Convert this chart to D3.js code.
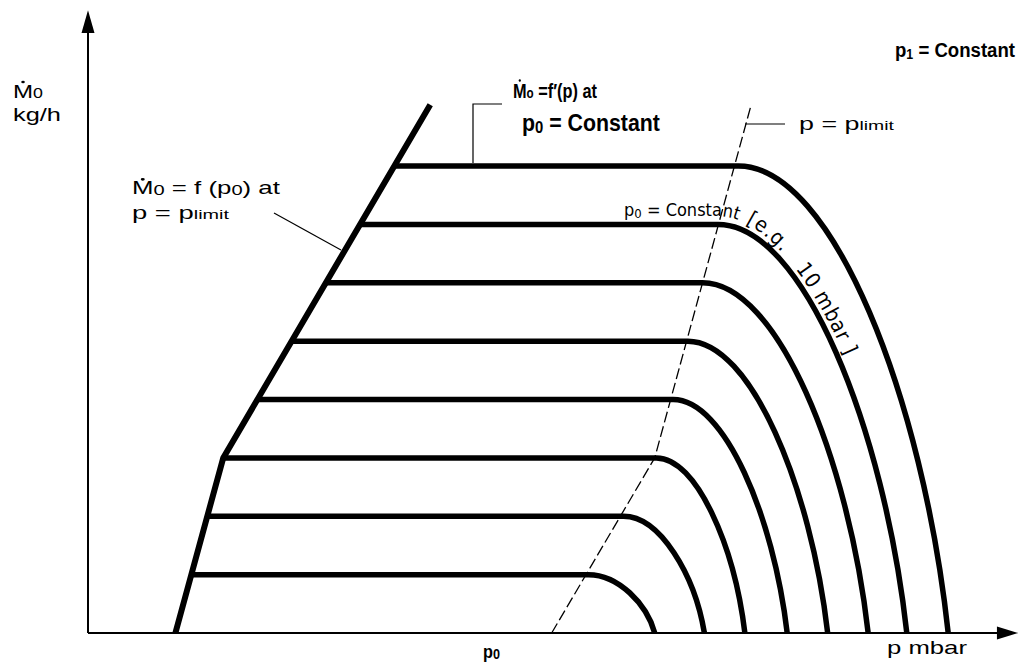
<!DOCTYPE html>
<html>
<head>
<meta charset="utf-8">
<script src="https://cdn.jsdelivr.net/npm/d3@7"></script>
<style>
  html, body { margin: 0; padding: 0; background: #fff; }
  svg { display: block; }
</style>
</head>
<body>
<svg id="chart" width="1023" height="664"></svg>
<script>
// Pump operating field: throughput M0 (kg/h) against pressure p (mbar)
// Each level is one curve at p0 = constant: flat, then rolling off to zero.
const levels = [1, 2, 3, 4, 5, 6, 7, 8];
const pStart = [11.2, 12.9, 14.6, 18.3, 22.0, 25.8, 29.6, 33.3];
const pKnee  = [54.4, 58.2, 61.8, 63.6, 65.2, 66.8, 68.5, 70.7];
const pEnd   = [61.6, 67.0, 71.4, 76.0, 80.4, 84.8, 89.0, 93.5];

// M0 = f(p0) at p = plimit (left boundary of the field)
const limitP = [9.5, 14.7, 37.2];
const limitM = [0, 3.0, 9.05];

// p = plimit (dashed)
const plimP = [50.4, 61.6, 72.0];
const plimM = [0, 3.0, 9.0];

const svg = d3.select("#chart");
const x = d3.scaleLinear().domain([0, 100]).range([88, 1008]);
const y = d3.scaleLinear().domain([0, 8]).range([633, 166]);

const SANS = "'Liberation Sans', Arial, Helvetica, sans-serif";
const COND = "'Liberation Sans Narrow', 'DejaVu Sans Condensed', 'Roboto Condensed', 'Arial Narrow', sans-serif";

// ---- axes with arrow heads ----
const axes = svg.append("g").attr("stroke", "#000").attr("fill", "#000");
axes.append("line")
  .attr("x1", x(0)).attr("y1", y(0)).attr("x2", x(0)).attr("y2", y(10.35))
  .attr("stroke-width", 2);
axes.append("path")
  .attr("d", `M${x(0)},${y(10.67)} L${x(0) - 6.5},${y(10.28)} L${x(0) + 6.5},${y(10.28)} Z`)
  .attr("stroke", "none");
axes.append("line")
  .attr("x1", x(0)).attr("y1", y(0)).attr("x2", x(99)).attr("y2", y(0))
  .attr("stroke-width", 2);
axes.append("path")
  .attr("d", `M${x(101.1)},${y(0)} L${x(98.8)},${y(0) - 6.5} L${x(98.8)},${y(0) + 6.5} Z`)
  .attr("stroke", "none");

// ---- left boundary ----
const boundary = d3.line().x(d => x(d[0])).y(d => y(d[1]));
svg.append("path")
  .attr("d", boundary(d3.zip(limitP, limitM)))
  .attr("fill", "none").attr("stroke", "#000").attr("stroke-width", 6)
  .attr("stroke-linejoin", "miter");

// ---- characteristic curves ----
const A = 0.45, B = 0.12, C = 0.5;   // roll-off shape
function curvePath(i, dx, dy) {
  dx = dx || 0; dy = dy || 0;
  const x0 = x(pStart[i]), xk = x(pKnee[i]), xe = x(pEnd[i]);
  const yl = y(levels[i]), yb = y(0);
  const W = xe - xk, H = yb - yl;
  const p = d3.path();
  p.moveTo(x0, yl + dy);
  p.lineTo(xk, yl + dy);
  p.bezierCurveTo(xk + A * W, yl + dy, xe - B * W + dx, yl + C * H - 2 * Math.sign(dx), xe + dx, yb);
  return p.toString();
}
svg.append("g").selectAll("path")
  .data(levels)
  .join("path")
  .attr("d", (d, i) => curvePath(i))
  .attr("fill", "none").attr("stroke", "#000").attr("stroke-width", 5.5);

// ---- p = plimit dashed line ----
svg.append("path")
  .attr("d", boundary(d3.zip(plimP, plimM)))
  .attr("fill", "none").attr("stroke", "#000").attr("stroke-width", 1.3)
  .attr("stroke-dasharray", "11,4");

// ---- leader lines ----
const lead = svg.append("g").attr("fill", "none").attr("stroke", "#000").attr("stroke-width", 1.2);
lead.append("path").attr("d", "M274,213 L341,250");
lead.append("path").attr("d", `M502,104 H473 V${y(8) - 3}`);
lead.append("path").attr("d", "M745,124 H785");

// ---- text helpers: each label is fitted to a given width by a horizontal scale ----
function addText(px, py, parts, size, family, len, weight) {
  const g = svg.append("g");
  const t = g.append("text")
    .attr("x", 0).attr("y", 0)
    .attr("font-family", family).attr("font-size", size)
    .attr("font-weight", weight || 400).attr("fill", "#000");
  let shift = 0;
  parts.forEach(p => {
    const ts = t.append("tspan").text(p.t);
    const target = p.dy || 0;
    if (target !== shift) { ts.attr("dy", target - shift); shift = target; }
    if (p.size) ts.attr("font-size", p.size);
  });
  const w = t.node().getComputedTextLength();
  const s = len ? len / w : 1;
  g.attr("transform", `translate(${px},${py}) scale(${s},1)`);
  return {g, t};
}
function dotOver(lbl, idx) {
  const e = lbl.t.node().getExtentOfChar(idx);
  lbl.g.append("ellipse").attr("cx", e.x + e.width / 2).attr("cy", e.y + 1.5)
    .attr("rx", 1.4).attr("ry", 1.3).attr("fill", "#000");
}

// y axis title
dotOver(addText(13, 98, [{t: "M"}, {t: "0", size: 14}], 19, SANS, 30), 0);
addText(13, 121, [{t: "kg/h"}], 19, SANS, 48);

// left annotation
dotOver(addText(132, 194, [{t: "M"}, {t: "0", size: 14, dy: 1}, {t: " = f (p"}, {t: "0", size: 14, dy: 1}, {t: ") at"}], 18, SANS, 148), 0);
addText(132, 219, [{t: "p = p"}, {t: "limit", size: 13}], 18, SANS, 97);

// top annotation
dotOver(addText(513, 98, [{t: "M"}, {t: "o", size: 15}, {t: " =f\u2032(p) at"}], 21, SANS, 84, 700), 0);
addText(522, 131, [{t: "p"}, {t: "0", size: 16, dy: 2}, {t: " = Constant", dy: 0}], 23, SANS, 138, 700);

// right annotations
addText(799, 130, [{t: "p = p"}, {t: "limit", size: 13}], 18, SANS, 95);
addText(895, 57, [{t: "p"}, {t: "1", size: 14, dy: 2}, {t: " = Constant", dy: 0}], 21, SANS, 120, 700);

// axis labels
addText(483, 658, [{t: "p"}, {t: "0", size: 14, dy: 1}], 18, SANS, 17, 700);
addText(887, 654, [{t: "p mbar"}], 18, SANS, 80);

// label running along the p0 = constant curve
svg.append("path").attr("id", "alongCurve")
  .attr("d", curvePath(6, 10, -8)).attr("fill", "none").attr("stroke", "none");
const ct = svg.append("text")
  .attr("font-family", COND).attr("font-size", 18).attr("fill", "#000");
const tp = ct.append("textPath").attr("href", "#alongCurve")
  .attr("startOffset", 624 - x(pStart[6]));
tp.append("tspan").text("p");
tp.append("tspan").text("0").attr("font-size", 13).attr("dy", 2);
tp.append("tspan").text(" = Constant").attr("dy", -2);
tp.append("tspan").text("[e.g.\u00a0\u00a0\u00a010 mbar ]")
  .attr("dx", 8).attr("font-size", 21).attr("letter-spacing", 0.9);
</script>
</body>
</html>
